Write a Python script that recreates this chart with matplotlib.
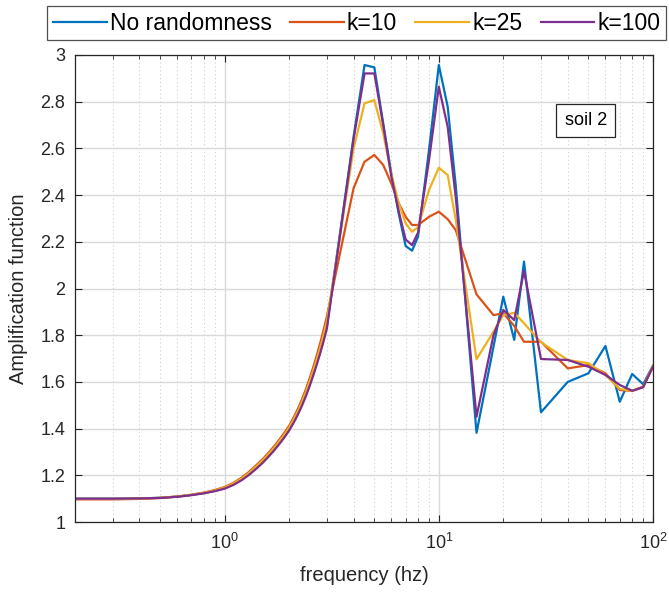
import matplotlib
matplotlib.use("Agg")
import matplotlib.pyplot as plt
from matplotlib.ticker import FuncFormatter, LogLocator, NullFormatter

plt.rcParams['font.family'] = ['Liberation Sans', 'DejaVu Sans']
plt.rcParams['mathtext.fontset'] = 'custom'
plt.rcParams['mathtext.rm'] = 'Liberation Sans'
plt.rcParams['mathtext.it'] = 'Liberation Sans:italic'

# frequencies (hz)
freq = [0.2, 0.3, 0.4, 0.5, 0.6, 0.7, 0.8, 0.9,
        1.0, 1.1, 1.2, 1.3, 1.4, 1.5, 1.6, 1.7, 1.8, 1.9,
        2.0, 2.1, 2.2, 2.3, 2.4, 2.5, 2.6, 2.7, 2.8, 2.9, 3.0,
        4.0, 4.5, 5.0, 5.5, 6.0, 6.5, 7.0, 7.5, 8.0, 9.0, 10.0, 11.0, 12.0,
        15.0, 18.0, 20.0, 22.5, 25.0, 30.0, 40.0, 50.0, 60.0, 70.0, 80.0, 90.0, 100.0]

no_random = [1.100, 1.100, 1.101, 1.104, 1.109, 1.116, 1.124, 1.134,
             1.145, 1.162, 1.183, 1.207, 1.233, 1.258, 1.285, 1.312, 1.340, 1.368,
             1.398, 1.432, 1.468, 1.507, 1.549, 1.594, 1.640, 1.687, 1.735, 1.785, 1.837,
             2.650, 2.957, 2.947, 2.707, 2.493, 2.320, 2.182, 2.162, 2.222, 2.593, 2.957, 2.779, 2.440,
             1.382, 1.750, 1.965, 1.780, 2.115, 1.470, 1.600, 1.637, 1.754, 1.515, 1.634, 1.590, 1.670]

k10 = [1.097, 1.097, 1.099, 1.103, 1.109, 1.117, 1.126, 1.137,
       1.150, 1.168, 1.190, 1.215, 1.242, 1.268, 1.296, 1.324, 1.353, 1.382,
       1.412, 1.448, 1.486, 1.527, 1.571, 1.618, 1.667, 1.718, 1.770, 1.824, 1.880,
       2.430, 2.543, 2.572, 2.529, 2.450, 2.365, 2.307, 2.272, 2.272, 2.307, 2.329, 2.297, 2.250,
       1.975, 1.886, 1.894, 1.840, 1.772, 1.772, 1.658, 1.672, 1.637, 1.565, 1.562, 1.580, 1.665]

k25 = [1.099, 1.099, 1.100, 1.104, 1.109, 1.116, 1.125, 1.135,
       1.147, 1.165, 1.186, 1.210, 1.237, 1.262, 1.290, 1.317, 1.346, 1.374,
       1.404, 1.439, 1.476, 1.516, 1.559, 1.605, 1.652, 1.700, 1.750, 1.803, 1.858,
       2.600, 2.793, 2.807, 2.665, 2.490, 2.365, 2.279, 2.243, 2.262, 2.422, 2.517, 2.486, 2.294,
       1.697, 1.815, 1.886, 1.896, 1.851, 1.770, 1.694, 1.680, 1.630, 1.570, 1.562, 1.577, 1.670]

k100 = [1.100, 1.100, 1.101, 1.103, 1.108, 1.115, 1.123, 1.132,
        1.143, 1.159, 1.179, 1.202, 1.227, 1.252, 1.279, 1.306, 1.334, 1.362,
        1.392, 1.425, 1.461, 1.500, 1.541, 1.585, 1.631, 1.678, 1.726, 1.776, 1.828,
        2.640, 2.921, 2.921, 2.700, 2.480, 2.330, 2.210, 2.186, 2.240, 2.550, 2.864, 2.693, 2.390,
        1.451, 1.800, 1.908, 1.865, 2.075, 1.698, 1.694, 1.665, 1.630, 1.587, 1.562, 1.577, 1.665]

series = [no_random, k10, k25, k100]
labels = ["No randomness", "k=10", "k=25", "k=100"]
colors = ["#0072BD", "#D95319", "#EDB120", "#7E2F8E"]

yticks = [1, 1.2, 1.4, 1.6, 1.8, 2, 2.2, 2.4, 2.6, 2.8, 3]

dark = "#262626"

fig = plt.figure(figsize=(6.69, 5.92), dpi=100)
ax = fig.add_axes([0.1121, 0.1182, 0.976 - 0.1121, 0.9071 - 0.1182])

for y, lab, c in zip(series, labels, colors):
    ax.plot(freq, y, color=c, lw=1.6, label=lab)

ax.set_xscale("log")
ax.set_xlim(0.2, 100)
ax.set_ylim(1, 3)
ax.set_yticks(yticks)
ax.yaxis.set_major_formatter(FuncFormatter(lambda v, p: "{:g}".format(v)))
ax.xaxis.set_minor_locator(LogLocator(base=10, subs=range(2, 10), numticks=20))
ax.xaxis.set_minor_formatter(NullFormatter())

ax.grid(True, which="major", color="#d9d9d9", lw=1.0, ls="-")
ax.grid(True, which="minor", axis="x", color="#cfcfcf", lw=0.8, ls=(0, (1, 2.5)))
ax.set_axisbelow(True)

ax.tick_params(which="both", direction="in", top=True, right=True, colors=dark, labelsize=13)
ax.tick_params(which="major", length=5, width=0.8)
ax.tick_params(which="minor", length=3, width=0.6)
ax.tick_params(axis="y", pad=7)
ax.tick_params(axis="x", pad=8)
for s in ax.spines.values():
    s.set_color(dark)
    s.set_linewidth(0.9)

ax.set_xlabel("frequency (hz)", fontsize=14.5, color=dark, labelpad=9)
ax.set_ylabel("Amplification function", fontsize=14.5, color=dark, labelpad=9)

ax.text(48.5, 2.72, "soil 2", fontsize=13, color="black", ha="center", va="center",
        bbox=dict(boxstyle="square,pad=0.45", fc="white", ec=dark, lw=0.9))

leg = fig.legend(loc="center", bbox_to_anchor=(0.533, 0.961), ncol=4, fontsize=16.5,
                 frameon=True, fancybox=False, edgecolor=dark, handlelength=2.35,
                 handletextpad=0.13, columnspacing=0.8, borderpad=0.25)
leg.get_frame().set_linewidth(0.9)
for t in leg.get_texts():
    t.set_color("black")

fig.savefig("out.png", dpi=100)
